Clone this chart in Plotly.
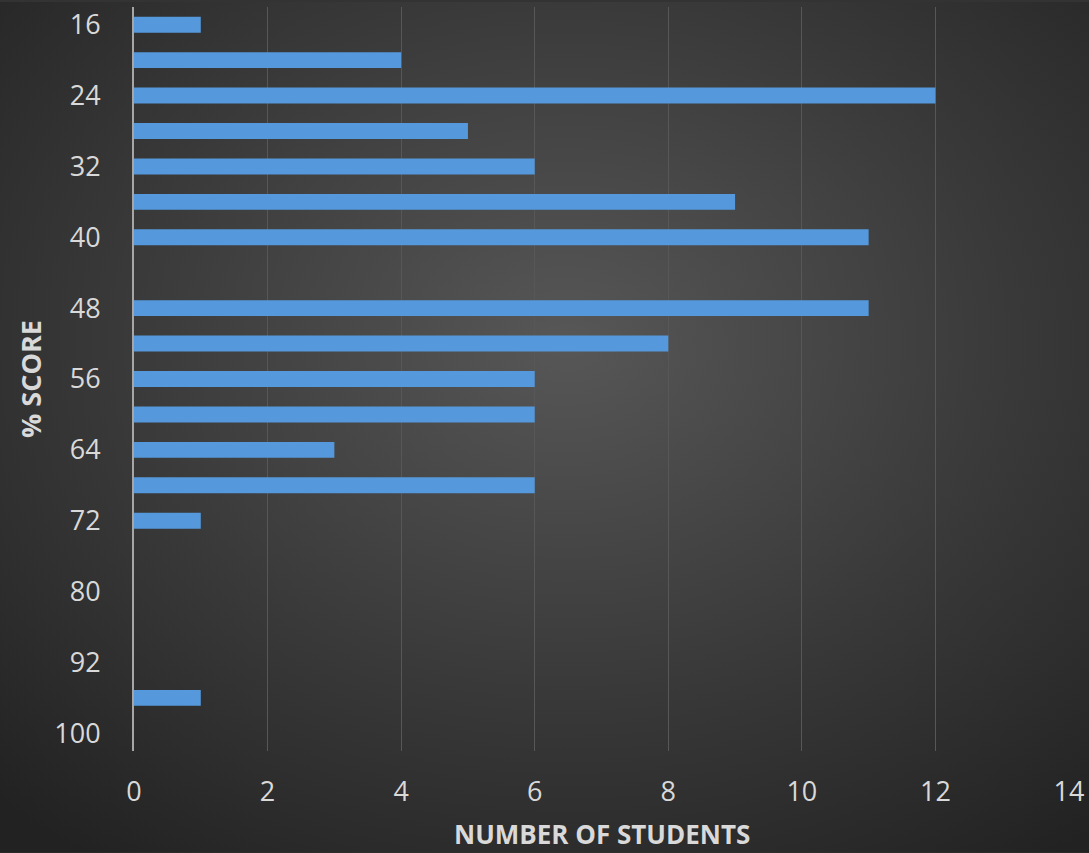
import base64
import plotly.graph_objects as go

# Data
scores = ["16", "20", "24", "28", "32", "36", "40", "44", "48", "52", "56",
          "60", "64", "68", "72", "76", "80", "84", "92", "96", "100"]
students = [1, 4, 12, 5, 6, 9, 11, 0, 11, 8, 6, 6, 3, 6, 1, 0, 0, 0, 0, 1, 0]
shown_labels = ["16", "24", "32", "40", "48", "56", "64", "72", "80", "92", "100"]
x_ticks = [0, 2, 4, 6, 8, 10, 12, 14]

W, H = 1089, 853
ML, MR, MT, MB = 134, 20, 5, 102
PW, PH = W - ML - MR, H - MT - MB

svg = f'''<svg xmlns="http://www.w3.org/2000/svg" width="{W}" height="{H}" viewBox="0 0 {W} {H}" preserveAspectRatio="none">
<defs><radialGradient id="g" cx="0.52" cy="0.40" r="0.75" gradientUnits="objectBoundingBox">
<stop offset="0" stop-color="#575757"/><stop offset="0.55" stop-color="#393939"/><stop offset="1" stop-color="#222222"/>
</radialGradient></defs><rect width="{W}" height="{H}" fill="url(#g)"/></svg>'''
uri = "data:image/svg+xml;base64," + base64.b64encode(svg.encode()).decode()

TXT = "#d9d9d9"
FONT = "Open Sans"

fig = go.Figure(go.Bar(
    y=scores, x=students, orientation="h",
    marker=dict(color="#5599dc", line=dict(width=0)),
    width=0.45,
))

fig.update_layout(
    width=W, height=H,
    margin=dict(l=ML, r=MR, t=MT, b=MB),
    paper_bgcolor="#333333",
    plot_bgcolor="rgba(0,0,0,0)",
    showlegend=False,
    font=dict(family=FONT, color=TXT),
    images=[dict(source=uri, xref="paper", yref="paper",
                 x=-ML / PW, y=1 + MT / PH, sizex=W / PW, sizey=H / PH,
                 xanchor="left", yanchor="top", sizing="stretch", layer="below")],
    xaxis=dict(range=[0, 14], tickvals=x_ticks, showgrid=True,
               gridcolor="#575757", gridwidth=1, zeroline=False, showline=False,
               tickfont=dict(size=27, color=TXT, family=FONT),
               ticklabelstandoff=22, fixedrange=True),
    yaxis=dict(type="category", categoryorder="array", categoryarray=scores,
               autorange="reversed", tickvals=shown_labels,
               showgrid=False, showline=True, linecolor="#a6a6a6", linewidth=2,
               tickfont=dict(size=27, color=TXT, family=FONT),
               ticklabelstandoff=26, fixedrange=True),
    annotations=[
        dict(text="<b>NUMBER OF STUDENTS</b>", xref="paper", yref="paper",
             x=0.5, y=(MT + PH - 834) / PH, xanchor="center", yanchor="middle",
             showarrow=False, font=dict(size=26, color=TXT, family=FONT)),
        dict(text="<b>% SCORE</b>", xref="paper", yref="paper",
             x=(30 - ML) / PW, y=(MT + PH - 378) / PH, xanchor="center", yanchor="middle",
             textangle=-90, showarrow=False, font=dict(size=27, color=TXT, family=FONT)),
    ],
)

fig.write_html("out.html", config={"displayModeBar": False},
               post_script="document.body.style.margin='0';document.body.style.overflow='hidden';")
